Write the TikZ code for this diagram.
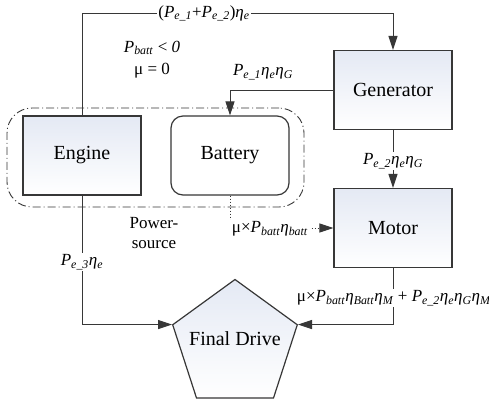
\documentclass[tikz,border=0pt]{standalone}
\usepackage{fontspec}
\setmainfont{Liberation Serif}
\usetikzlibrary{arrows.meta,shapes.geometric}
\definecolor{boxtop}{RGB}{228,233,244}
\definecolor{edge}{RGB}{55,55,55}
\newcommand{\Pe}[1]{\textit{P}\textsubscript{\textit{e\_#1}}}
\newcommand{\etas}[1]{\textit{η}\textsubscript{\textit{#1}}}
\newcommand{\Pb}{\textit{P}\textsubscript{\textit{batt}}}
\tikzset{
  blk/.style={draw=edge, line width=1.2pt, top color=boxtop, bottom color=white,
    minimum width=118pt, minimum height=79pt, inner sep=0pt,
    font=\fontsize{20}{24}\selectfont},
  battblk/.style={draw=edge, line width=1.2pt, fill=white, rounded corners=12pt,
    minimum width=118pt, minimum height=79pt, inner sep=0pt,
    font=\fontsize{20}{24}\selectfont},
  conn/.style={draw=edge, line width=1pt, -{Triangle[length=14pt,width=9pt]}},
  lbl/.style={fill=white, inner sep=1.5pt, font=\fontsize{17}{20}\selectfont},
  plain/.style={inner sep=1pt, font=\fontsize{17}{20}\selectfont, align=center},
}
\begin{document}
\begin{tikzpicture}[x=1pt,y=-1pt]
\useasboundingbox[fill=white] (0,0) rectangle (489,400);
% power source group
\node[draw=edge, line width=0.9pt, dash pattern=on 8pt off 3pt on 1pt off 3pt,
      rounded corners=25pt, minimum width=297pt, minimum height=99pt, inner sep=0pt]
      (ps) at (155.5,157.5) {};
% blocks
\node[blk] (eng) at (82,155.5) {Engine};
\node[battblk] (bat) at (230,155.5) {Battery};
\node[blk] (gen) at (393,90) {Generator};
\node[blk] (mot) at (393,228) {Motor};
\node[draw=edge, line width=1.2pt, regular polygon, regular polygon sides=5,
      minimum size=131pt, inner sep=0pt, top color=boxtop, bottom color=white]
      (fd) at (235,345) {};
\node[font=\fontsize{20}{24}\selectfont, inner sep=0pt] (fdtext) at (235,339) {Final Drive};
% connectors
\coordinate (topl) at (82,13.5);
\draw[conn] (eng.north) -- (topl) -| (gen.north);
\draw[conn] (gen.west) -| (bat.north);
\draw[conn] (gen.south) -- (mot.north);
\draw[conn, dotted] (bat.south) |- (mot.west);
\draw[conn] (eng.south) |- (fd.corner 2);
\draw[conn] (mot.south) |- (fd.corner 5);
% labels
\node[lbl] (l1) at (204,13.5) {(\Pe{1}+\Pe{2})\etas{e}};
\node[plain] (l2) at (152,48) {\Pb{} < \textit{0}};
\node[plain] (l3) at (152,71) {μ = 0};
\node[lbl] (l4) at (263,72) {\Pe{1}\etas{e}\etas{G}};
\node[lbl] (l5) at (393,161) {\Pe{2}\etas{e}\etas{G}};
\node[lbl] (l6) at (270,229) {μ×\Pb\etas{batt}};
\node[plain] (l7) at (154,233) {Power-\\source};
\node[lbl] (l8) at (82,262) {\Pe{3}\etas{e}};
\node[lbl] (l9) at (394,298) {μ×\Pb\etas{Batt}\etas{M} + \Pe{2}\etas{e}\etas{G}\etas{M}};
\end{tikzpicture}
\end{document}
